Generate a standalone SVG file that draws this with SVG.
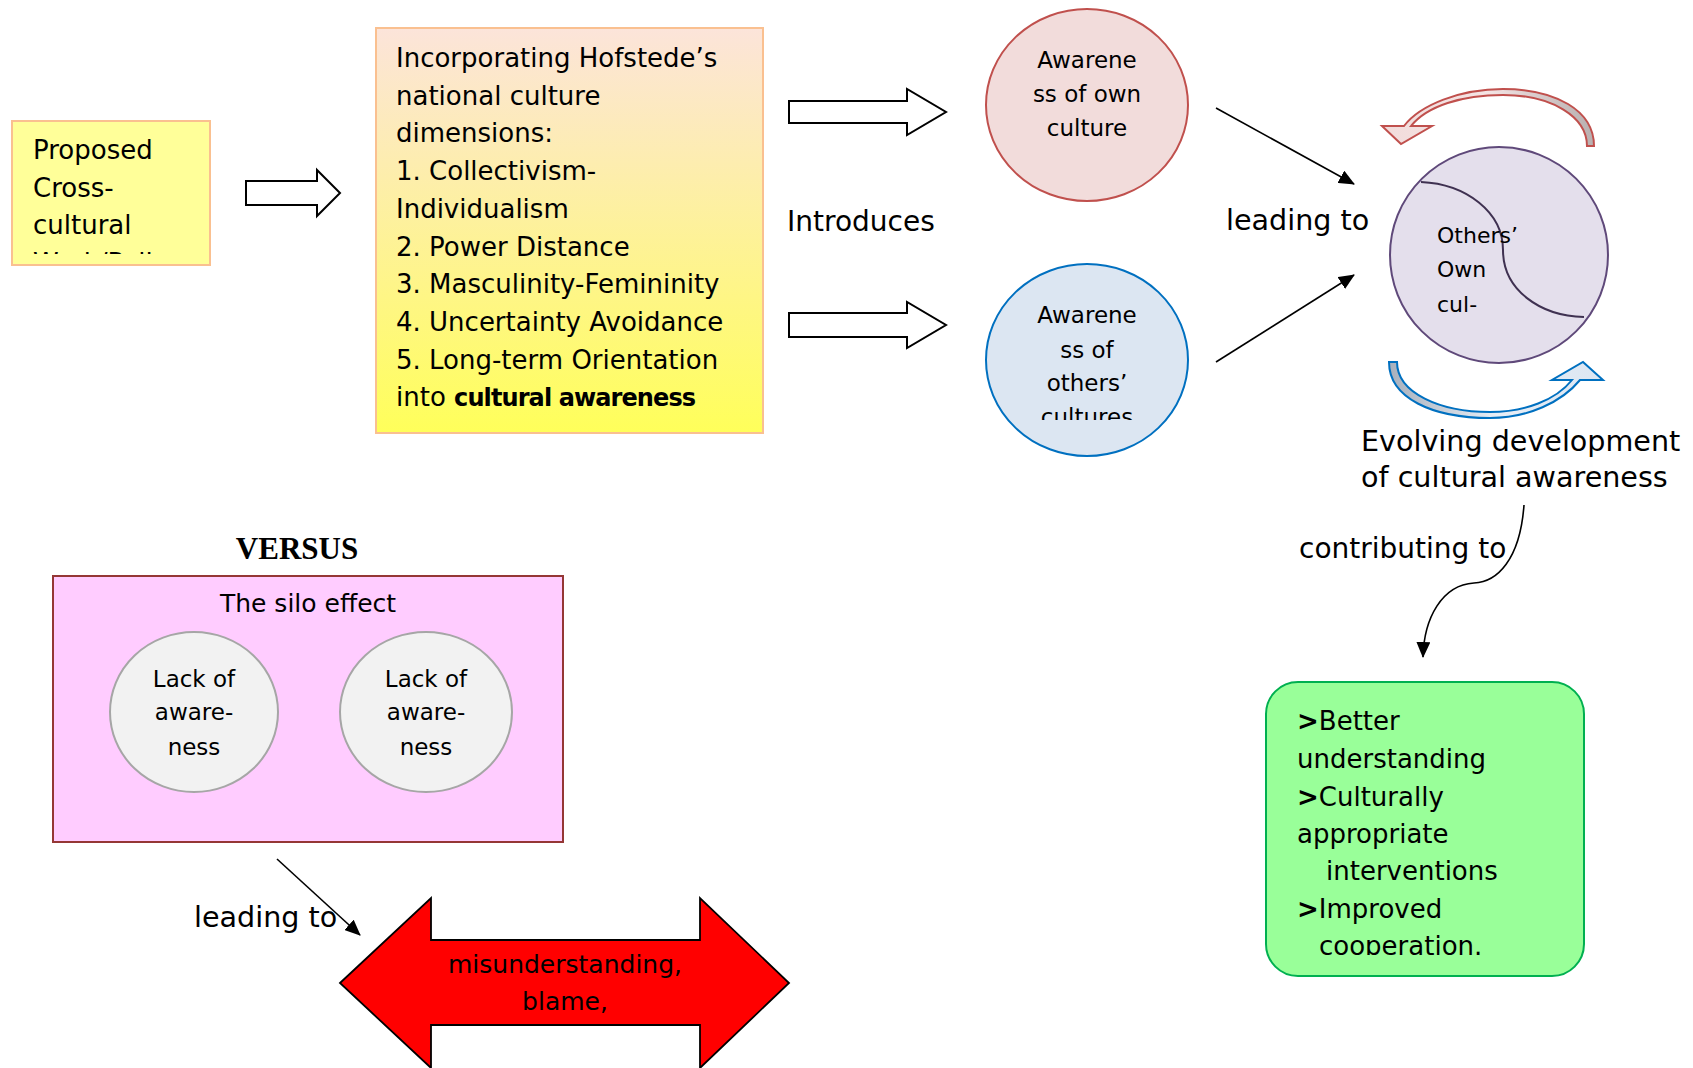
<svg xmlns="http://www.w3.org/2000/svg" width="1693" height="1068" viewBox="0 0 1693 1068">
<defs>
<style>
.t{font-family:"DejaVu Sans","Liberation Sans",sans-serif;fill:#000}
.hollow{fill:#fff;stroke:#000;stroke-width:2}
.conn{fill:none;stroke:#000;stroke-width:1.6}
</style>
<marker id="ah" viewBox="0 0 16 14" refX="15" refY="7" markerWidth="16" markerHeight="14" markerUnits="userSpaceOnUse" orient="auto">
<path d="M0,0 L16,7 L0,14 Z" fill="#000"/>
</marker>
<linearGradient id="hofG" x1="0" y1="0" x2="0" y2="1">
<stop offset="0" stop-color="#fce4da"/>
<stop offset="1" stop-color="#ffff5a"/>
</linearGradient>
<linearGradient id="redG" x1="1" y1="0" x2="0" y2="0">
<stop offset="0" stop-color="#b8b0b0"/>
<stop offset="0.5" stop-color="#f4e4e4"/>
<stop offset="1" stop-color="#f2dcdb"/>
</linearGradient>
<linearGradient id="bluG" x1="0" y1="0" x2="1" y2="0">
<stop offset="0" stop-color="#a8b0bc"/>
<stop offset="0.5" stop-color="#e8eef6"/>
<stop offset="1" stop-color="#dce6f2"/>
</linearGradient>
<clipPath id="clipProp"><rect x="12" y="121" width="198" height="133"/></clipPath>
<clipPath id="clipBlue"><rect x="980" y="260" width="215" height="160"/></clipPath>
<clipPath id="clipGreen"><rect x="1266" y="682" width="318" height="273"/></clipPath>
</defs>
<rect width="1693" height="1068" fill="#fff"/>

<g id="proposed">
<rect x="12" y="121" width="198" height="144" fill="#ffff99" stroke="#fac090" stroke-width="2"/>
<g clip-path="url(#clipProp)" class="t" font-size="26">
<text x="33" y="159">Proposed</text>
<text x="33" y="197">Cross-</text>
<text x="33" y="234">cultural</text>
<text x="33" y="272">Work/Policy</text>
</g>
</g>

<g id="hofstede">
<rect x="376" y="28" width="387" height="405" fill="url(#hofG)" stroke="#fac090" stroke-width="2"/>
<g class="t" font-size="26">
<text x="396" y="67">Incorporating Hofstede’s</text>
<text x="396" y="105">national culture</text>
<text x="396" y="142">dimensions:</text>
<text x="396" y="180">1. Collectivism-</text>
<text x="396" y="218">Individualism</text>
<text x="396" y="256">2. Power Distance</text>
<text x="396" y="293">3. Masculinity-Femininity</text>
<text x="396" y="331">4. Uncertainty Avoidance</text>
<text x="396" y="369">5. Long-term Orientation</text>
<text x="396" y="406">into <tspan font-weight="bold" font-size="24" letter-spacing="-0.9">cultural awareness</tspan></text>
</g>
</g>

<g id="own-culture">
<ellipse cx="1087" cy="105" rx="101" ry="96" fill="#f2dcdb" stroke="#c0504d" stroke-width="2"/>
<g class="t" font-size="23" text-anchor="middle">
<text x="1087" y="68">Awarene</text>
<text x="1087" y="102">ss of own</text>
<text x="1087" y="136">culture</text>
</g>
</g>

<g id="others-culture">
<ellipse cx="1087" cy="360" rx="101" ry="96" fill="#dce6f2" stroke="#0070c0" stroke-width="2"/>
<g class="t" font-size="23" text-anchor="middle" clip-path="url(#clipBlue)">
<text x="1087" y="323">Awarene</text>
<text x="1087" y="358">ss of</text>
<text x="1087" y="391">others’</text>
<text x="1087" y="425">cultures</text>
</g>
</g>

<g id="combined">
<ellipse cx="1499" cy="255" rx="109" ry="108" fill="#e4dfec" stroke="#5f497a" stroke-width="2"/>
<path d="M1421,182 C1466,184 1503,212 1503,250 C1503,290 1540,316 1584,317" fill="none" stroke="#3f3151" stroke-width="2"/>
<g class="t" font-size="22">
<text x="1437" y="243">Others’</text>
<text x="1437" y="277">Own</text>
<text x="1437" y="312">cul-</text>
</g>
</g>

<g id="cycle-arrows">
<path d="M1594,146 C1594,110 1555,89 1503,89 C1460,89 1420,105 1404,126 L1382,126 L1401,144 L1432,126 L1411,126 C1427,106 1462,95 1503,95 C1552,95 1587,117 1587,146 Z" fill="url(#redG)" stroke="#c0504d" stroke-width="2" stroke-linejoin="miter"/>
<path d="M1389,362 C1389,398 1432,418 1490,418 C1528,418 1562,402 1580,380 L1603,380 L1583,362 L1552,380 L1572,380 C1556,400 1525,412 1490,412 C1440,412 1397,393 1397,362 Z" fill="url(#bluG)" stroke="#0070c0" stroke-width="2"/>
</g>

<g id="evolving-label" class="t" font-size="28.6">
<text x="1361" y="451">Evolving development</text>
<text x="1361" y="487">of cultural awareness</text>
</g>

<g id="outcomes">
<rect x="1266" y="682" width="318" height="294" rx="32" ry="32" fill="#99ff99" stroke="#00b050" stroke-width="2"/>
<g class="t" font-size="26" clip-path="url(#clipGreen)">
<text x="1297" y="730"><tspan font-weight="bold">&gt;</tspan>Better</text>
<text x="1297" y="768">understanding</text>
<text x="1297" y="806"><tspan font-weight="bold">&gt;</tspan>Culturally</text>
<text x="1297" y="843">appropriate</text>
<text x="1326" y="880">interventions</text>
<text x="1297" y="918"><tspan font-weight="bold">&gt;</tspan>Improved</text>
<text x="1319" y="955">cooperation.</text>
</g>
</g>

<g id="versus">
<text x="297" y="559" text-anchor="middle" font-family="Liberation Serif,Times New Roman,serif" font-weight="bold" font-size="31">VERSUS</text>
</g>

<g id="silo">
<rect x="53" y="576" width="510" height="266" fill="#ffccff" stroke="#953735" stroke-width="2"/>
<text class="t" x="308" y="612" font-size="25" text-anchor="middle">The silo effect</text>
<g id="lack1">
<ellipse cx="194" cy="712" rx="84" ry="80" fill="#f2f2f2" stroke="#a6a6a6" stroke-width="2"/>
<g class="t" font-size="23" text-anchor="middle">
<text x="194" y="687">Lack of</text>
<text x="194" y="720">aware-</text>
<text x="194" y="755">ness</text>
</g>
</g>
<g id="lack2">
<ellipse cx="426" cy="712" rx="86" ry="80" fill="#f2f2f2" stroke="#a6a6a6" stroke-width="2"/>
<g class="t" font-size="23" text-anchor="middle">
<text x="426" y="687">Lack of</text>
<text x="426" y="720">aware-</text>
<text x="426" y="755">ness</text>
</g>
</g>
</g>

<g id="misunderstanding">
<path d="M340,983 L431,898 L431,940 L700,940 L700,898 L789,983 L700,1068 L700,1025 L431,1025 L431,1068 Z" fill="#ff0000" stroke="#000" stroke-width="1.8"/>
<g class="t" font-size="25" text-anchor="middle">
<text x="565" y="973">misunderstanding,</text>
<text x="565" y="1010">blame,</text>
</g>
</g>

<g id="connectors">
<path class="hollow" d="M246,181 L317,181 L317,170 L340,193 L317,216 L317,205 L246,205 Z"/>
<path class="hollow" d="M789,101 L907,101 L907,89 L946,112 L907,135 L907,123 L789,123 Z"/>
<path class="hollow" d="M789,313 L907,313 L907,302 L946,325 L907,348 L907,337 L789,337 Z"/>
<line class="conn" x1="1216" y1="108" x2="1354" y2="184" marker-end="url(#ah)"/>
<line class="conn" x1="1216" y1="362" x2="1354" y2="275" marker-end="url(#ah)"/>
<path class="conn" d="M1524,505 C1520,560 1497,582 1474,583 C1442,585 1424,618 1423,657" marker-end="url(#ah)"/>
<line class="conn" x1="277" y1="859" x2="360" y2="935" marker-end="url(#ah)"/>
<g class="t" font-size="28">
<text x="787" y="231">Introduces</text>
<text x="1226" y="230" font-size="28.6">leading to</text>
<text x="1299" y="558">contributing to</text>
<text x="194" y="927" font-size="28.6">leading to</text>
</g>
</g>
</svg>
